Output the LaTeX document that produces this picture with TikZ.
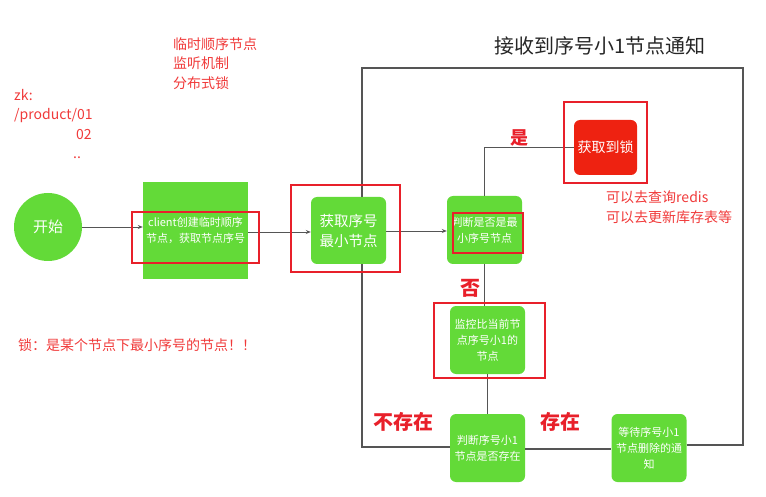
\documentclass[tikz,border=0pt]{standalone}
\usepackage{xcolor}
\usepackage{fontspec}
\setmainfont{Noto Sans CJK SC}
\usepackage{tikz}
\usetikzlibrary{arrows.meta,positioning,calc}
\definecolor{nodegreen}{HTML}{63DA38}
\definecolor{lockred}{HTML}{EE2211}
\definecolor{markred}{HTML}{E8202A}
\definecolor{notered}{HTML}{F03A3A}
\definecolor{linegray}{HTML}{555555}

\begin{document}
\begin{tikzpicture}[x=1pt,y=-1pt,
  step box/.style={rectangle,fill=nodegreen,rounded corners=6pt,minimum width=75pt,minimum height=68pt,align=center,text=white,inner sep=1pt,font=\fontsize{11}{16}\selectfont},
  hl/.style={rectangle,draw=markred,line width=2.5pt,inner sep=0pt},
  arr/.style={-{Stealth[length=5pt,width=4pt]},draw=linegray,line width=0.9pt},
  conn/.style={draw=linegray,line width=1.1pt},
  note/.style={text=notered,align=left,inner sep=0pt,font=\fontsize{14}{19.5}\selectfont},
  tag/.style={text=markred,font=\fontsize{20}{20}\selectfont\bfseries}
]
\useasboundingbox (0,0) rectangle (766,497);

% Notes
\node[note,anchor=north west] (kinds) at (173,37) {临时顺序节点\\监听机制\\分布式锁};
\node[note,anchor=north west] (zkpath) at (14,89) {zk:\\/product/01\\\hspace*{62pt}02\\\hspace*{59pt}..};
\node[note,anchor=west] (lockdef) at (18,345) {锁：是某个节点下最小序号的节点！！};
\node[note,anchor=north west] (todo) at (606,191) {可以去查询redis\\可以去更新库存表等};
\node[font=\fontsize{20}{20}\selectfont,text=black!85] (title) at (600,46) {接收到序号小1节点通知};

% Steps
\node[circle,fill=nodegreen,minimum size=68pt,text=white,font=\fontsize{15}{15}\selectfont] (start) at (48,227) {开始};
\node[step box,rounded corners=0pt,minimum width=105pt,minimum height=97pt] (client) at (195.5,230.5) {client创建临时顺序\\节点，获取节点序号};
\node[step box,minimum height=67pt,font=\fontsize{14.5}{20}\selectfont] (getmin) at (348.5,230.5) {获取序号\\最小节点};
\node[step box] (ismin) at (484.5,230) {判断是否是最\\小序号节点};
\node[step box,fill=lockred,minimum width=63pt,minimum height=55pt,font=\fontsize{14}{14}\selectfont] (lock) at (605.5,147.5) {获取到锁};
\node[step box] (watch) at (487.5,340) {监控比当前节\\点序号小1的\\节点};
\node[step box] (exists) at (487.5,448) {判断序号小1\\节点是否存在};
\node[step box] (wait) at (649,448) {等待序号小1\\节点删除的通\\知};

% Loop corners
\coordinate (tl) at (362,68);
\coordinate (tr) at (743,68);

% Connectors
\draw[arr] (start) -- (client.west |- start.east);
\draw[arr] (client.east |- 0,232) -- (getmin.west |- 0,232);
\draw[arr] (getmin.east |- 0,231) -- (ismin.west |- 0,231);
\draw[conn] (ismin.north) |- (lock.west);
\draw[conn] (ismin.south) -- (watch.north -| ismin.south);
\draw[conn] (watch.south) -- (exists.north);
\draw[conn] (exists.east |- 0,449) -- (wait.west |- 0,449);
\draw[conn] (exists.west |- 0,447) -| (tl |- getmin.south);
\draw[conn] (wait.east |- 0,445) -| (tr) -- (tl) -- (tl |- getmin.north);

% Branch labels
\node[tag,font=\fontsize{18}{18}\selectfont\bfseries] (yes) at (519,138) {是};
\node[tag] (no) at (470,288) {否};
\node[tag] (absent) at (403,422) {不存在};
\node[tag] (present) at (560,422) {存在};

% Highlights
\node[hl,minimum width=127pt,minimum height=51pt] (hlclient) at (195.5,237.5) {};
\node[hl,minimum width=109pt,minimum height=87pt] (hlgetmin) at (345.5,228.5) {};
\node[hl,minimum width=70pt,minimum height=40pt] (hlismin) at (488,233) {};
\node[hl,minimum width=83pt,minimum height=81pt] (hllock) at (605.5,142.5) {};
\node[hl,minimum width=111pt,minimum height=75pt] (hlwatch) at (489.5,340.5) {};

\end{tikzpicture}
\end{document}
